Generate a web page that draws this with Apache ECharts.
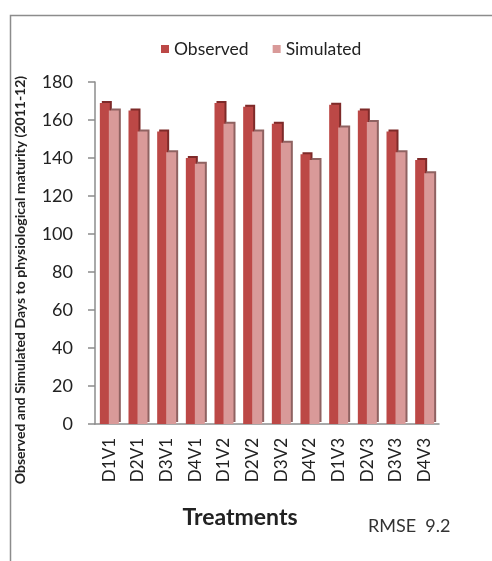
<!DOCTYPE html>
<html>
<head>
<meta charset="utf-8">
<script src="https://cdn.jsdelivr.net/npm/echarts@6/dist/echarts.min.js"></script>
<style>
  html, body { margin: 0; padding: 0; background: #fff; }
  #chart { width: 492px; height: 561px; }
</style>
</head>
<body>
<div id="chart"></div>
<script>
// treatments on the x axis
const treatments = ['D1V1', 'D2V1', 'D3V1', 'D4V1', 'D1V2', 'D2V2', 'D3V2', 'D4V2', 'D1V3', 'D2V3', 'D3V3', 'D4V3'];
// days to physiological maturity (2011-12)
const observed = [169, 165, 154, 140, 169, 167, 158, 142, 168, 165, 154, 139];
const simulated = [165, 154, 143, 137, 158, 154, 148, 139, 156, 159, 143, 132];
const yTicks = [0, 20, 40, 60, 80, 100, 120, 140, 160, 180];

const font = 'Lato, "Open Sans", sans-serif';

const chart = echarts.init(document.getElementById('chart'));
chart.setOption({
  animation: false,
  textStyle: { fontFamily: font },
  graphic: [
    {
      type: 'rect',
      left: 8, top: 13,
      shape: { width: 500, height: 560 },
      style: { fill: 'none', stroke: '#8c8c8c', lineWidth: 1.5 },
      silent: true
    },
    {
      type: 'text',
      left: 368, top: 517,
      style: { text: 'RMSE  9.2', fontSize: 18, fontFamily: font, fill: '#333' }
    }
  ],
  legend: {
    top: 35,
    left: 156,
    itemWidth: 8,
    itemHeight: 8,
    itemGap: 24,
    icon: 'rect',
    textStyle: { fontSize: 17.5, color: '#222', fontFamily: font },
    data: ['Observed', 'Simulated']
  },
  grid: { left: 95, right: 53, top: 82, bottom: 137 },
  xAxis: {
    type: 'category',
    data: treatments,
    name: 'Treatments',
    nameLocation: 'middle',
    nameGap: 82,
    nameTextStyle: { fontSize: 23, fontWeight: 'bold', color: '#222', fontFamily: font, padding: [0, 54, 0, 0] },
    axisLine: { lineStyle: { color: '#8c8c8c', width: 1.5 } },
    axisTick: { alignWithLabel: false, length: 5, lineStyle: { color: '#8c8c8c', width: 1.5 } },
    axisLabel: { rotate: 90, fontSize: 17, color: '#222', margin: 14, fontFamily: font }
  },
  yAxis: {
    type: 'value',
    min: 0,
    max: yTicks[yTicks.length - 1],
    interval: yTicks[1] - yTicks[0],
    name: 'Observed and Simulated Days to physiological maturity (2011-12)',
    nameLocation: 'middle',
    nameGap: 68,
    nameRotate: 90,
    nameTextStyle: { fontSize: 14, fontWeight: 'bold', color: '#222', fontFamily: font, padding: [0, 54, 0, 0] },
    axisLine: { show: true, lineStyle: { color: '#8c8c8c', width: 1.5 } },
    axisTick: { show: true, inside: false, length: 7, lineStyle: { color: '#8c8c8c', width: 1.5 } },
    axisLabel: { fontSize: 18, color: '#222', margin: 22, fontFamily: font },
    splitLine: { show: false }
  },
  series: [
    {
      name: 'Observed',
      type: 'bar',
      data: observed,
      barWidth: 10,
      barGap: '-10%',
      itemStyle: {
        color: '#BC4846',
        shadowColor: '#7e2a29',
        shadowOffsetX: 2,
        shadowOffsetY: -2,
        shadowBlur: 0
      }
    },
    {
      name: 'Simulated',
      type: 'bar',
      data: simulated,
      barWidth: 10,
      itemStyle: {
        color: '#D99A99',
        shadowColor: '#8f6261',
        shadowOffsetX: 2,
        shadowOffsetY: -2,
        shadowBlur: 0
      }
    }
  ]
});
</script>
</body>
</html>
